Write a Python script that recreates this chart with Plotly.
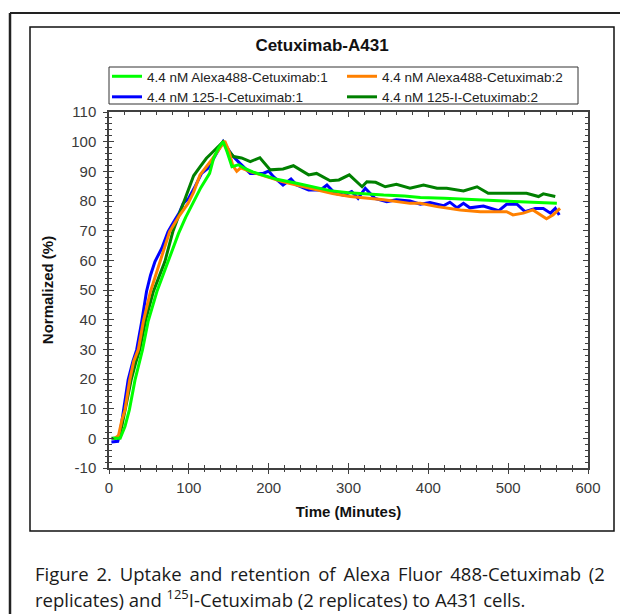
import plotly.graph_objects as go

# ---- data ----
t_alexa1 = [5, 10, 14, 20, 25.5, 32.6, 42, 49, 60, 74, 87, 96, 105, 115, 126, 131, 137, 143, 148, 154, 162, 170, 180, 193, 210, 235, 255, 277, 300, 320, 344, 370, 390, 420, 461, 500, 530, 561]
v_alexa1 = [0, 0, 0, 4, 9.6, 19.7, 29.9, 39.4, 49.5, 59.6, 69, 74.5, 79.2, 84.5, 89.3, 94.4, 97.8, 100, 96.5, 91.6, 92.2, 91, 89.8, 88.8, 87.3, 86, 84.8, 83.5, 82.8, 82.4, 82, 81.7, 81.2, 80.9, 80.4, 80.1, 79.8, 79.2]

t_alexa2 = [7, 12, 16, 20, 26, 31, 36.7, 43, 52, 64, 76, 88, 99, 106, 114, 127, 137, 145, 150, 155, 160, 165, 177, 200, 218, 240, 260, 280, 302, 320, 344, 377, 390, 411, 440, 465, 498, 506, 519, 531, 541, 548, 556, 565]
v_alexa2 = [0, 1, 6, 9.6, 19.7, 26, 29.9, 39.4, 49.5, 59.6, 69.7, 75, 79.2, 83, 88.8, 93.3, 97.3, 100.2, 97, 92, 90, 91.2, 89.9, 88, 86.5, 85, 83.7, 82.5, 81.5, 81, 80.4, 79.2, 79.2, 78.1, 77, 76.4, 76.4, 75.3, 75.9, 77, 75.3, 74, 75.3, 77.5]

t_i125_1 = [3, 7.5, 11, 14, 18, 24, 30, 34.7, 41, 47, 52, 57.6, 66, 74, 80, 88, 93, 100, 108, 116, 124, 132, 138, 143, 148, 154, 164, 177, 193, 200, 206, 218, 228, 235, 250, 265, 273, 283, 294, 304, 312, 321, 333, 348, 360, 377, 390, 402, 419, 427, 436, 444, 452, 469, 488, 498, 511, 521, 534, 544, 553, 559, 564]
v_i125_1 = [-1.2, -1, -1, 2, 9.6, 19.7, 26, 29.9, 39.4, 49.5, 55, 59.6, 64, 69.7, 72.5, 76, 79.2, 81, 85, 89.3, 91, 95, 98, 100, 98, 95.5, 92.7, 89.3, 89.3, 90.1, 88.2, 85.4, 87.4, 85.4, 83.7, 83.7, 85.4, 82.6, 82, 83.2, 80.9, 84.3, 80.9, 79.8, 80.4, 80, 78.9, 79.5, 78.4, 79.6, 77.7, 79.2, 77.7, 78.3, 76.7, 78.9, 78.9, 76.4, 77.5, 77.5, 75.9, 77.5, 75.3]

t_i125_2 = [3, 8, 12, 16, 22, 28, 34, 38.5, 46, 55.6, 62, 70, 80, 88, 95, 106, 114, 122, 130, 139, 143, 148, 156, 166, 177, 189, 202, 218, 231, 250, 260, 277, 288, 301, 317, 323, 334, 346, 360, 377, 394, 411, 423, 444, 461, 475, 490, 523, 538, 544, 559]
v_i125_2 = [0, 0, 0.5, 4, 12, 20, 26, 29.9, 40, 49.5, 54, 59.6, 69.7, 75.5, 81, 88.5, 91.5, 94.4, 96.5, 98.9, 100, 97.5, 95, 94.5, 93.3, 94.6, 90.5, 90.8, 91.9, 88.8, 89.3, 86.8, 87.1, 88.8, 84.8, 86.5, 86.3, 84.8, 85.6, 84.3, 85.4, 84.3, 84.3, 83.4, 84.8, 82.6, 82.6, 82.6, 81.5, 82.4, 81.5]

series_names = ["4.4 nM Alexa488-Cetuximab:1", "4.4 nM Alexa488-Cetuximab:2",
                "4.4 nM 125-I-Cetuximab:1", "4.4 nM 125-I-Cetuximab:2"]
series_colors = ["#00FF00", "#FF8000", "#0000FF", "#008000"]

x_tickvals = [0, 100, 200, 300, 400, 500, 600]
x_ticktext = ["0", "100", "200", "300", "400", "500", "600"]
y_tickvals = [-10, 0, 10, 20, 30, 40, 50, 60, 70, 80, 90, 100, 110]
y_ticktext = ["-10", "0", "10", "20", "30", "40", "50", "60", "70", "80", "90", "100", "110"]

title_text = "Cetuximab-A431"
x_title = "Time (Minutes)"
y_title = "Normalized (%)"
caption1 = "Figure 2. Uptake and retention of Alexa Fluor 488-Cetuximab (2"
caption2 = "replicates) and <sup>125</sup>I-Cetuximab (2 replicates) to A431 cells."

# ---- figure ----
# the page body adds an 8px offset; size the figure so it fits the 628x614 window
OFF = 8
W, H = 620, 606
px = lambda v: (v - OFF) / W
py = lambda v: 1 - (v - OFF) / H

series = [(t_alexa1, v_alexa1), (t_alexa2, v_alexa2), (t_i125_1, v_i125_1), (t_i125_2, v_i125_2)]
draw_order = [2, 3, 1, 0]

fig = go.Figure()
for i in draw_order:
    t, v = series[i]
    fig.add_trace(go.Scatter(x=t, y=v, mode="lines", name=series_names[i],
                             line=dict(color=series_colors[i], width=3),
                             legendrank=i + 1))
# dummy trace for overlay axes (crossing ticks)
fig.add_trace(go.Scatter(x=[None], y=[None], xaxis="x2", yaxis="y2",
                         showlegend=False, hoverinfo="skip"))

AX = "#404040"
FONT = "Liberation Sans, Arial"
tickfont = dict(family=FONT, size=15, color="#3a3a3a")
xdom = [px(109), px(588)]
ydom = [py(468), py(112)]

fig.update_layout(
    width=W, height=H, margin=dict(l=0, r=0, t=0, b=0, autoexpand=False),
    paper_bgcolor="white", plot_bgcolor="white",
    showlegend=True,
    title=dict(text="<b>" + title_text + "</b>", x=px(322), xanchor="center",
               y=py(45), yanchor="middle",
               font=dict(family=FONT, size=17, color="#111111")),
    legend=dict(orientation="h", x=px(107), y=py(61), xanchor="left", yanchor="top",
                borderwidth=0, bgcolor="rgba(0,0,0,0)",
                entrywidth=190, entrywidthmode="pixels",
                font=dict(family=FONT, size=13.5, color="#222222"),
                tracegroupgap=0),
    xaxis=dict(domain=xdom, range=[0, 600], showgrid=False, zeroline=False,
               showline=True, linecolor=AX, linewidth=1.5, mirror="ticks",
               ticks="inside", ticklen=5, tickwidth=1.2, tickcolor=AX,
               tickvals=x_tickvals, ticktext=x_ticktext, tickfont=tickfont,
               ticklabelstandoff=5, automargin=False,
               minor=dict(ticks="inside", ticklen=3, dtick=20, tickcolor=AX, tickwidth=1),
               title=dict(text="<b>" + x_title + "</b>", standoff=12,
                          font=dict(family=FONT, size=15, color="#111111")),
               anchor="y"),
    yaxis=dict(domain=ydom, range=[-10, 110], showgrid=False, zeroline=False,
               showline=True, linecolor=AX, linewidth=1.5, mirror="ticks",
               ticks="inside", ticklen=5, tickwidth=1.2, tickcolor=AX,
               tickvals=y_tickvals, ticktext=y_ticktext, tickfont=tickfont,
               ticklabelstandoff=8, automargin=False,
               minor=dict(ticks="inside", ticklen=3, dtick=2, tickcolor=AX, tickwidth=1),
               title=dict(text="<b>" + y_title + "</b>", standoff=14,
                          font=dict(family=FONT, size=15, color="#111111")),
               anchor="x"),
    xaxis2=dict(domain=xdom, range=[0, 600], overlaying="x", anchor="y2", side="bottom",
                showgrid=False, zeroline=False, showline=False, automargin=False,
                ticks="outside", ticklen=5, tickwidth=1.2, tickcolor=AX,
                tickvals=x_tickvals, showticklabels=False,
                minor=dict(ticks="outside", ticklen=3, dtick=20, tickcolor=AX, tickwidth=1)),
    yaxis2=dict(domain=ydom, range=[-10, 110], overlaying="y", anchor="x2", side="left",
                showgrid=False, zeroline=False, showline=False, automargin=False,
                ticks="outside", ticklen=5, tickwidth=1.2, tickcolor=AX,
                tickvals=y_tickvals, showticklabels=False,
                minor=dict(ticks="outside", ticklen=3, dtick=2, tickcolor=AX, tickwidth=1)),
)

# legend frame
fig.add_shape(type="rect", xref="paper", yref="paper",
              x0=px(109), x1=px(578), y0=py(104), y1=py(67),
              line=dict(color="#333333", width=1))
# inner chart frame and outer page frame
fig.add_shape(type="rect", xref="paper", yref="paper",
              x0=px(30), x1=px(614), y0=py(531), y1=py(27),
              line=dict(color="#111111", width=1.5), layer="below")
fig.add_shape(type="line", xref="paper", yref="paper", x0=px(10), x1=px(10), y0=py(13), y1=py(620),
              line=dict(color="#222222", width=2.5))
fig.add_shape(type="line", xref="paper", yref="paper", x0=px(10), x1=px(626), y0=py(13), y1=py(13),
              line=dict(color="#222222", width=2))
fig.add_shape(type="line", xref="paper", yref="paper", x0=px(626), x1=px(626), y0=py(13), y1=py(620),
              line=dict(color="#222222", width=1.5))

sp = " \u2006"
capfont = dict(family="Open Sans, Noto Sans", size=18.5, color="#1a1a1a")
fig.add_annotation(text=caption1.replace(" ", sp), xref="paper", yref="paper",
                   x=px(33), y=py(573), xanchor="left", yanchor="middle",
                   showarrow=False, font=capfont)
fig.add_annotation(text=caption2, xref="paper", yref="paper",
                   x=px(33), y=py(598), xanchor="left", yanchor="middle",
                   showarrow=False, font=capfont)

fig.write_html("out.html")
